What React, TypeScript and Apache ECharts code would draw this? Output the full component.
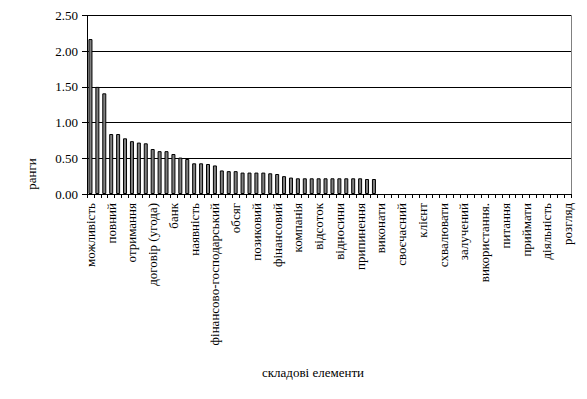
import React, { useEffect, useRef } from "react";
import * as echarts from "echarts";

const labeledCategories = [
  "можливість", "повний", "отримання", "договір (угода)", "банк", "наявність",
  "фінансово-господарський", "обсяг", "позиковий", "фінансовий", "компанія", "відсоток",
  "відносини", "припинення", "виконати", "своєчасний", "клієнт", "схвалювати",
  "залучений", "використання.", "питання", "приймати", "діяльність", "розгляд",
];
const categoryCount = 70;
const labelStep = 3;
const values = [
  2.17, 1.5, 1.41, 0.84, 0.84, 0.78, 0.74, 0.72, 0.71, 0.63, 0.6, 0.6, 0.56, 0.51,
  0.49, 0.43, 0.43, 0.42, 0.4, 0.33, 0.32, 0.32, 0.3, 0.3, 0.3, 0.3, 0.29, 0.28,
  0.25, 0.23, 0.22, 0.22, 0.22, 0.22, 0.22, 0.22, 0.22, 0.22, 0.22, 0.22, 0.21, 0.21,
];
const yTicks = { min: 0, max: 2.5, interval: 0.5 };
const yName = "ранги";
const xName = "складові елементи";

const FONT = "Liberation Serif";

export default function App() {
  const ref = useRef<HTMLDivElement>(null);
  useEffect(() => {
    if (!ref.current) return;
    const chart = echarts.init(ref.current, null, { renderer: "svg" });
    const categories = Array.from({ length: categoryCount }, (_, i) =>
      i % labelStep === 0 ? labeledCategories[i / labelStep] ?? "" : ""
    );
    chart.setOption({
      animation: false,
      backgroundColor: "#ffffff",
      textStyle: { fontFamily: FONT },
      grid: { left: 87, right: 16, top: 15.5, bottom: 205, containLabel: false },
      xAxis: {
        type: "category",
        data: categories,
        boundaryGap: true,
        axisLine: { lineStyle: { color: "#000", width: 1 } },
        axisTick: { show: true, interval: 0, length: 4, lineStyle: { color: "#000" } },
        axisLabel: {
          interval: 0,
          rotate: 90,
          margin: 9,
          color: "#000",
          fontFamily: FONT,
          fontSize: 13,
        },
        splitLine: { show: false },
      },
      yAxis: [
        {
          type: "value",
          min: yTicks.min,
          max: yTicks.max,
          interval: yTicks.interval,
          axisLine: { show: true, lineStyle: { color: "#000", width: 1 } },
          axisTick: { show: true, length: 5, lineStyle: { color: "#000" } },
          axisLabel: {
            formatter: (v: number) => v.toFixed(2),
            color: "#000",
            fontFamily: FONT,
            fontSize: 13,
            margin: 9,
          },
          splitLine: { show: true, lineStyle: { color: "#000", width: 1 } },
        },
        {
          type: "value",
          position: "right",
          min: yTicks.min,
          max: yTicks.max,
          interval: yTicks.interval,
          axisLine: { show: true, lineStyle: { color: "#808080", width: 1 } },
          axisTick: { show: false },
          axisLabel: { show: false },
          splitLine: { show: false },
        },
      ],
      series: [
        {
          type: "bar",
          data: values,
          barWidth: 4,
          itemStyle: { color: "#808080", borderColor: "#000", borderWidth: 1 },
        },
      ],
      graphic: [
        {
          type: "text",
          x: 31,
          y: 174,
          rotation: Math.PI / 2,
          style: {
            text: yName,
            fontFamily: FONT,
            fontSize: 13,
            fill: "#000",
            align: "center",
            verticalAlign: "middle",
          },
        },
        {
          type: "text",
          x: 313,
          y: 372,
          style: {
            text: xName,
            fontFamily: FONT,
            fontSize: 13,
            fill: "#000",
            align: "center",
            verticalAlign: "middle",
          },
        },
      ],
    });
    return () => chart.dispose();
  }, []);
  return (
    <div
      ref={ref}
      style={{ position: "fixed", left: 0, top: 0, width: 587, height: 399, background: "#fff" }}
    />
  );
}
